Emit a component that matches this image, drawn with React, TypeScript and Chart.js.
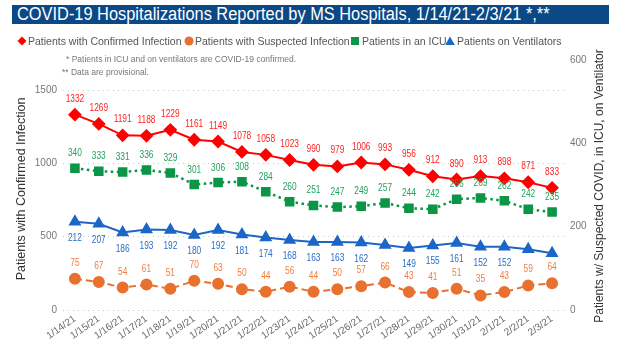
import React, { useEffect, useRef } from "react";
import { Chart, registerables } from "chart.js";

Chart.register(...registerables);

const dates = [
  "1/14/21", "1/15/21", "1/16/21", "1/17/21", "1/18/21", "1/19/21", "1/20/21",
  "1/21/21", "1/22/21", "1/23/21", "1/24/21", "1/25/21", "1/26/21", "1/27/21",
  "1/28/21", "1/29/21", "1/30/21", "1/31/21", "2/1/21", "2/2/21", "2/3/21",
];
const confirmed = [1332, 1269, 1191, 1188, 1229, 1161, 1149, 1078, 1058, 1023, 990, 979, 1006, 993, 956, 912, 890, 913, 898, 871, 833];
const suspected = [75, 67, 54, 61, 51, 70, 63, 50, 44, 56, 44, 50, 57, 66, 43, 41, 51, 35, 43, 59, 64];
const icu = [340, 333, 331, 336, 329, 301, 306, 308, 284, 260, 251, 247, 249, 257, 244, 242, 266, 269, 262, 242, 235];
const ventilators = [212, 207, 186, 193, 192, 180, 192, 181, 174, 168, 163, 163, 162, 156, 149, 155, 161, 152, 152, 146, 136];
const ventHiddenLabels = ["1/27/21", "2/2/21", "2/3/21"];
const leftTicks = [0, 500, 1000, 1500];
const rightTicks = [0, 200, 400, 600];
const leftMax = 1705;
const rightMax = 600;

const titleText = "COVID-19 Hospitalizations Reported by MS Hospitals, 1/14/21-2/3/21 *,**";
const leftTitle = "Patients with Confirmed Infection";
const rightTitle = "Patients w/ Suspected COVID, in ICU, on Ventilator";
const legendNames = [
  "Patients with Confirmed Infection",
  "Patients with Suspected Infection",
  "Patients in an ICU",
  "Patients on Ventilators",
];
const notes = ["* Patients in ICU and on ventilators are COVID-19 confirmed.", "** Data are provisional."];

const RED = "#FF0000";
const ORANGE = "#E8712F";
const GREEN = "#0B9547";
const BLUE = "#1B66C6";

const sans = '"Liberation Sans", Arial, sans-serif';

const labelPlugin = {
  id: "valueLabels",
  afterDatasetsDraw(chart: any) {
    const ctx = chart.ctx;
    chart.data.datasets.forEach((ds: any, i: number) => {
      const meta = chart.getDatasetMeta(i);
      meta.data.forEach((pt: any, j: number) => {
        if (ds.hiddenLabels && ds.hiddenLabels.includes(dates[j])) return;
        ctx.save();
        ctx.font = `11px ${sans}`;
        ctx.fillStyle = ds.labelColor;
        ctx.textAlign = "center";
        ctx.textBaseline = "middle";
        ctx.translate(pt.x, pt.y + ds.labelOffset);
        ctx.scale(0.76, 1);
        ctx.fillText(String(ds.data[j]), 0, 0);
        ctx.restore();
      });
    });
  },
};

const axisTitlePlugin = {
  id: "axisTitles",
  afterDraw(chart: any) {
    const ctx = chart.ctx;
    const cy = (chart.chartArea.top + chart.chartArea.bottom) / 2;
    ctx.save();
    ctx.fillStyle = "#333";
    ctx.font = `12.5px ${sans}`;
    ctx.textAlign = "center";
    ctx.textBaseline = "middle";
    ctx.translate(22, cy + 4);
    ctx.rotate(-Math.PI / 2);
    ctx.fillText(leftTitle, 0, 0);
    ctx.restore();
    ctx.save();
    ctx.fillStyle = "#333";
    ctx.font = `12px ${sans}`;
    ctx.textAlign = "center";
    ctx.textBaseline = "middle";
    ctx.translate(600, cy + 1);
    ctx.rotate(-Math.PI / 2);
    ctx.fillText(rightTitle, 0, 0);
    ctx.restore();
  },
};

function Marker({ kind, color }: { kind: string; color: string }) {
  let shape: any = null;
  if (kind === "diamond") shape = <polygon points="5,0.5 9.5,5 5,9.5 0.5,5" fill={color} />;
  if (kind === "circle") shape = <circle cx="5" cy="5" r="4.5" fill={color} />;
  if (kind === "square") shape = <rect x="1" y="1" width="8" height="8" fill={color} />;
  if (kind === "triangle") shape = <polygon points="5,0.5 9.8,9 0.2,9" fill={color} />;
  return (
    <svg width="10" height="10" style={{ position: "absolute", top: 36 }}>
      {shape}
    </svg>
  );
}

export default function App() {
  const ref = useRef<HTMLCanvasElement>(null);

  useEffect(() => {
    const chart = new Chart(ref.current as HTMLCanvasElement, {
      type: "line",
      data: {
        labels: dates,
        datasets: [
          {
            label: legendNames[0], data: confirmed, yAxisID: "y",
            borderColor: RED, backgroundColor: RED, pointStyle: "rectRot", pointRadius: 5.5,
            borderWidth: 2, tension: 0, labelColor: "#FF1F1F", labelOffset: -16,
          } as any,
          {
            label: legendNames[1], data: suspected, yAxisID: "y1",
            borderColor: ORANGE, backgroundColor: ORANGE, pointStyle: "circle", pointRadius: 5,
            borderWidth: 2, borderDash: [7, 4], tension: 0, labelColor: "#EE7F45", labelOffset: -16,
          } as any,
          {
            label: legendNames[2], data: icu, yAxisID: "y1",
            borderColor: GREEN, backgroundColor: GREEN, pointStyle: "rect", pointRadius: 5,
            borderWidth: 2.5, borderDash: [2.5, 3.5], tension: 0, labelColor: "#1FA35B", labelOffset: -15,
          } as any,
          {
            label: legendNames[3], data: ventilators, yAxisID: "y1",
            borderColor: BLUE, backgroundColor: BLUE, pointStyle: "triangle", pointRadius: 5.5,
            borderWidth: 2, tension: 0, labelColor: "#2A6DC8", labelOffset: 16,
            hiddenLabels: ventHiddenLabels,
          } as any,
        ],
      },
      options: {
        responsive: false,
        devicePixelRatio: 1,
        animation: false,
        layout: { padding: { top: 60, left: 0, right: 0, bottom: 0 } },
        plugins: { legend: { display: false }, tooltip: { enabled: false } },
        scales: {
          x: {
            type: "category",
            offset: true,
            grid: { display: false, drawTicks: false },
            border: { display: false },
            ticks: {
              autoSkip: false, minRotation: 35, maxRotation: 35, color: "#666",
              font: { family: sans, size: 10 }, padding: 3,
            },
            afterFit: (s: any) => { s.height = 42; },
          },
          y: {
            position: "left",
            min: 0,
            max: leftMax,
            afterBuildTicks: (s: any) => { s.ticks = leftTicks.map((v) => ({ value: v })); },
            grid: { color: "#c8c8c8", lineWidth: 1, drawTicks: false },
            border: { display: false, dash: [1, 4] },
            ticks: { color: "#777", font: { family: sans, size: 10 }, padding: 6, callback: (v: any) => String(v) },
            afterFit: (s: any) => { s.width = 63; },
          },
          y1: {
            position: "right",
            min: 0,
            max: rightMax,
            afterBuildTicks: (s: any) => { s.ticks = rightTicks.map((v) => ({ value: v })); },
            grid: { drawOnChartArea: false, drawTicks: false },
            border: { display: false },
            ticks: { color: "#777", font: { family: sans, size: 10 }, padding: 6, callback: (v: any) => String(v) },
            afterFit: (s: any) => { s.width = 58; },
          },
        },
      } as any,
      plugins: [labelPlugin, axisTitlePlugin],
    });
    return () => chart.destroy();
  }, []);

  const legendTextStyle: React.CSSProperties = {
    position: "absolute", top: 34, fontFamily: sans, fontSize: 10.5, color: "#555",
    lineHeight: "14px", whiteSpace: "nowrap",
  };
  const noteStyle: React.CSSProperties = {
    position: "absolute", fontFamily: sans, fontSize: 8.5, color: "#777",
    lineHeight: "12px", whiteSpace: "nowrap",
  };

  return (
    <div style={{ position: "fixed", left: 0, top: 0, width: 622, height: 352, background: "#fff", overflow: "hidden" }}>
      <canvas ref={ref} width={622} height={352} style={{ position: "absolute", left: 0, top: 0, width: 622, height: 352 }} />
      <div
        style={{
          position: "absolute", left: 12, top: 5, width: 597, height: 19, background: "#0B4886",
          overflow: "hidden",
        }}
      >
        <div
          style={{
            position: "absolute", left: 5, top: 0, color: "#fff", fontFamily: sans, fontSize: 18,
            lineHeight: "19px", whiteSpace: "nowrap", transform: "scaleX(0.91)", transformOrigin: "0 0",
          }}
        >
          {titleText}
        </div>
      </div>
      <div style={{ position: "absolute", left: 17 }}><Marker kind="diamond" color={RED} /></div>
      <div style={{ ...legendTextStyle, left: 28 }}>{legendNames[0]}</div>
      <div style={{ position: "absolute", left: 184 }}><Marker kind="circle" color={ORANGE} /></div>
      <div style={{ ...legendTextStyle, left: 195 }}>{legendNames[1]}</div>
      <div style={{ position: "absolute", left: 350 }}><Marker kind="square" color={GREEN} /></div>
      <div style={{ ...legendTextStyle, left: 362 }}>{legendNames[2]}</div>
      <div style={{ position: "absolute", left: 445 }}><Marker kind="triangle" color={BLUE} /></div>
      <div style={{ ...legendTextStyle, left: 457 }}>{legendNames[3]}</div>
      <div style={{ ...noteStyle, left: 66, top: 53 }}>{notes[0]}</div>
      <div style={{ ...noteStyle, left: 62, top: 66 }}>{notes[1]}</div>
    </div>
  );
}
